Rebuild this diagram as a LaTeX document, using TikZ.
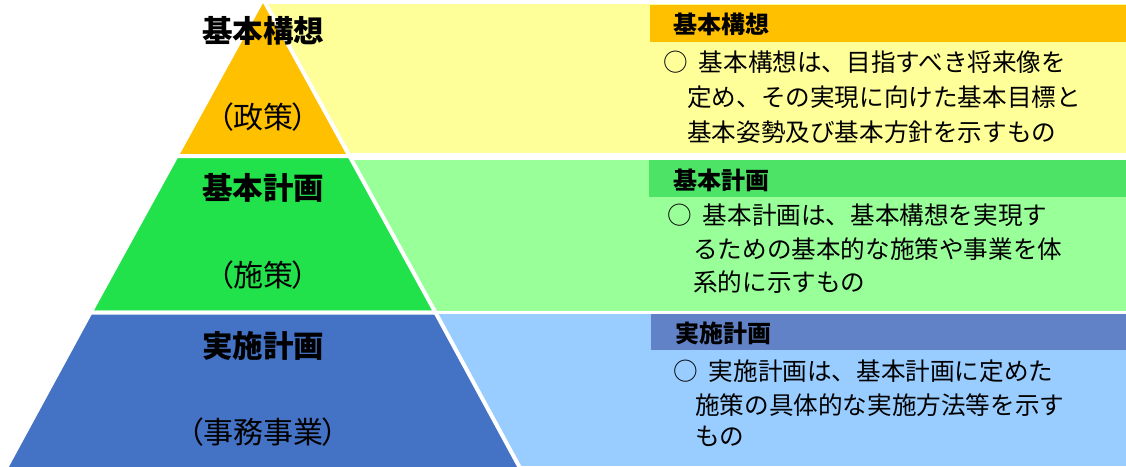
\documentclass[tikz,border=0pt]{standalone}
\usepackage{fontspec}
\setmainfont{Noto Sans CJK JP}
\newfontfamily\parenfont[RawFeature=+palt]{Noto Sans CJK JP}
\usepackage{tikz}
\usetikzlibrary{positioning}

\definecolor{orangeLayer}{HTML}{FFC000}
\definecolor{yellowPanel}{HTML}{FFFF99}
\definecolor{greenLayer}{HTML}{22E24B}
\definecolor{greenPanel}{HTML}{99FF99}
\definecolor{greenHead}{HTML}{4DE366}
\definecolor{blueLayer}{HTML}{4472C4}
\definecolor{bluePanel}{HTML}{99CCFF}
\definecolor{blueHead}{HTML}{6282C8}

\begin{document}
\begin{tikzpicture}[x=1pt, y=-1pt, node distance=34pt,
  layer/.style={draw=white, line width=4pt, line join=miter},
  title/.style={font=\fontsize{30.5}{30}\selectfont\bfseries},
  sub/.style={font=\fontsize{30}{30}\selectfont\parenfont},
  head/.style={anchor=west, inner sep=0pt, font=\fontsize{24}{24}\selectfont\bfseries},
  body/.style={anchor=west, inner sep=0pt, font=\fontsize{24.6}{24}\selectfont}]

  \useasboundingbox (0,0) rectangle (1126,466);

  % panels on the right
  \fill[yellowPanel] (263,4) rectangle (1126,153);
  \fill[greenPanel] (263,160) rectangle (1126,311);
  \fill[bluePanel] (263,314) rectangle (1126,466);

  % pyramid
  \filldraw[layer, fill=orangeLayer] (263,-1.2) -- (349.5,156) -- (176.5,156) -- cycle;
  \filldraw[layer, fill=greenLayer] (176.5,156) -- (349.5,156) -- (435.5,312.5) -- (90.5,312.5) -- cycle;
  \filldraw[layer, fill=blueLayer] (90.5,312.5) -- (435.5,312.5) -- (522.2,472) -- (3.8,472) -- cycle;

  % header bars
  \fill[orangeLayer] (650,5) rectangle (1126,42);
  \fill[greenHead] (649,160) rectangle (1126,197);
  \fill[blueHead] (651,314) rectangle (1126,350);

  % pyramid labels
  \node[title] (kouso) at (263,31) {基本構想};
  \node[sub] (seisaku) at (263,117) {（政策）};
  \node[title] (keikaku) at (263,188) {基本計画};
  \node[sub] (shisaku) at (263,275) {（施策）};
  \node[title] (jisshi) at (263,346) {実施計画};
  \node[sub] (jimu) at (263,432) {（事務事業）};

  % basic concept
  \node[head] (kouso-head) at (673,24) {基本構想};
  \node[body] (kouso-1) at (663,62) {○\hspace{11pt}基本構想は、目指すべき将来像を};
  \node[body, below right=35pt and 24pt of kouso-1.west, anchor=west] (kouso-2) {定め、その実現に向けた基本目標と};
  \node[body, below=35pt of kouso-2.west, anchor=west] (kouso-3) {基本姿勢及び基本方針を示すもの};

  % basic plan
  \node[head] (keikaku-head) at (673,180) {基本計画};
  \node[body] (keikaku-1) at (667,215) {○\hspace{11pt}基本計画は、基本構想を実現す};
  \node[body, below right=34pt and 26pt of keikaku-1.west, anchor=west] (keikaku-2) {るための基本的な施策や事業を体};
  \node[body, below=33pt of keikaku-2.west, anchor=west] (keikaku-3) {系的に示すもの};

  % implementation plan
  \node[head] (jisshi-head) at (675,333) {実施計画};
  \node[body] (jisshi-1) at (673,371) {○\hspace{11pt}実施計画は、基本計画に定めた};
  \node[body, below right=34pt and 22pt of jisshi-1.west, anchor=west] (jisshi-2) {施策の具体的な実施方法等を示す};
  \node[body, below=31pt of jisshi-2.west, anchor=west] (jisshi-3) {もの};

\end{tikzpicture}
\end{document}
